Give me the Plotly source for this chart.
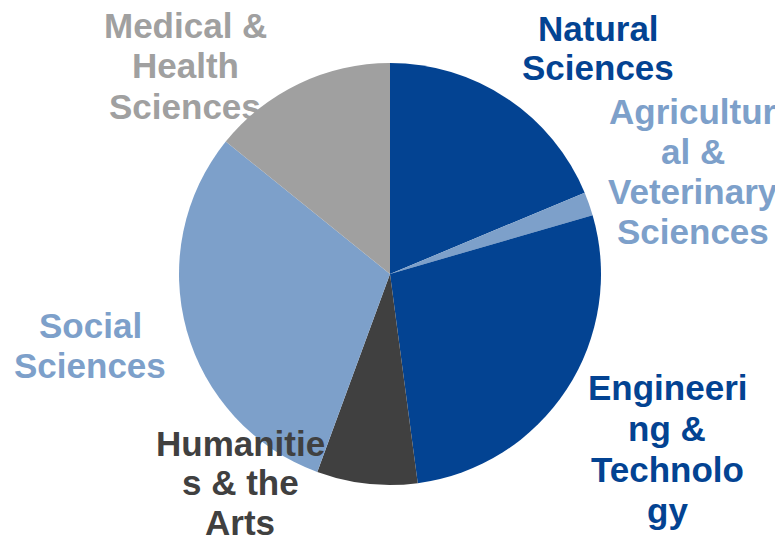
import plotly.graph_objects as go

categories = ["Natural Sciences", "Agricultural & Veterinary Sciences", "Engineering & Technology",
              "Humanities & the Arts", "Social Sciences", "Medical & Health Sciences"]
shares = [18.7, 1.8, 27.4, 7.7, 30.2, 14.2]
label_lines = [["Natural", "Sciences"],
               ["Agricultur", "al &", "Veterinary", "Sciences"],
               ["Engineeri", "ng &", "Technolo", "gy"],
               ["Humanitie", "s & the", "Arts"],
               ["Social", "Sciences"],
               ["Medical &", "Health", "Sciences"]]

colors = ["#034392", "#7DA0CA", "#034392", "#404040", "#7DA0CA", "#A0A0A0"]
# page offset (body margin) compensation
OFF = 8
W, H = 783, 538
# label layout (pixel centre x, first-line centre y, line step)
label_pos = [(598, 28, 39.5), (693, 111, 40), (667, 387, 41),
             (240, 443, 39.5), (90, 325, 40), (185, 25, 40.5)]

cx, cy, r = 390 - OFF, 274 - OFF, 211
fig = go.Figure(go.Pie(
    labels=categories, values=shares, sort=False, direction="clockwise", rotation=0,
    marker=dict(colors=colors, line=dict(width=0)), textinfo="none", hoverinfo="label+percent",
    domain=dict(x=[(cx - r) / W, (cx + r) / W], y=[(H - cy - r) / H, (H - cy + r) / H]),
    showlegend=False))

anns = []
for lines, (x, y0, step), col in zip(label_lines, label_pos, colors):
    for i, t in enumerate(lines):
        anns.append(dict(text="<b>%s</b>" % t, x=(x - OFF) / W, y=1 - (y0 - OFF + i * step) / H,
                         xref="paper", yref="paper", xanchor="center", yanchor="middle", showarrow=False,
                         font=dict(family="Liberation Sans, Arial", size=35, color=col)))

fig.update_layout(width=W, height=H, margin=dict(l=0, r=0, t=0, b=0),
                  paper_bgcolor="white", plot_bgcolor="white", annotations=anns)
fig.write_html("out.html")
